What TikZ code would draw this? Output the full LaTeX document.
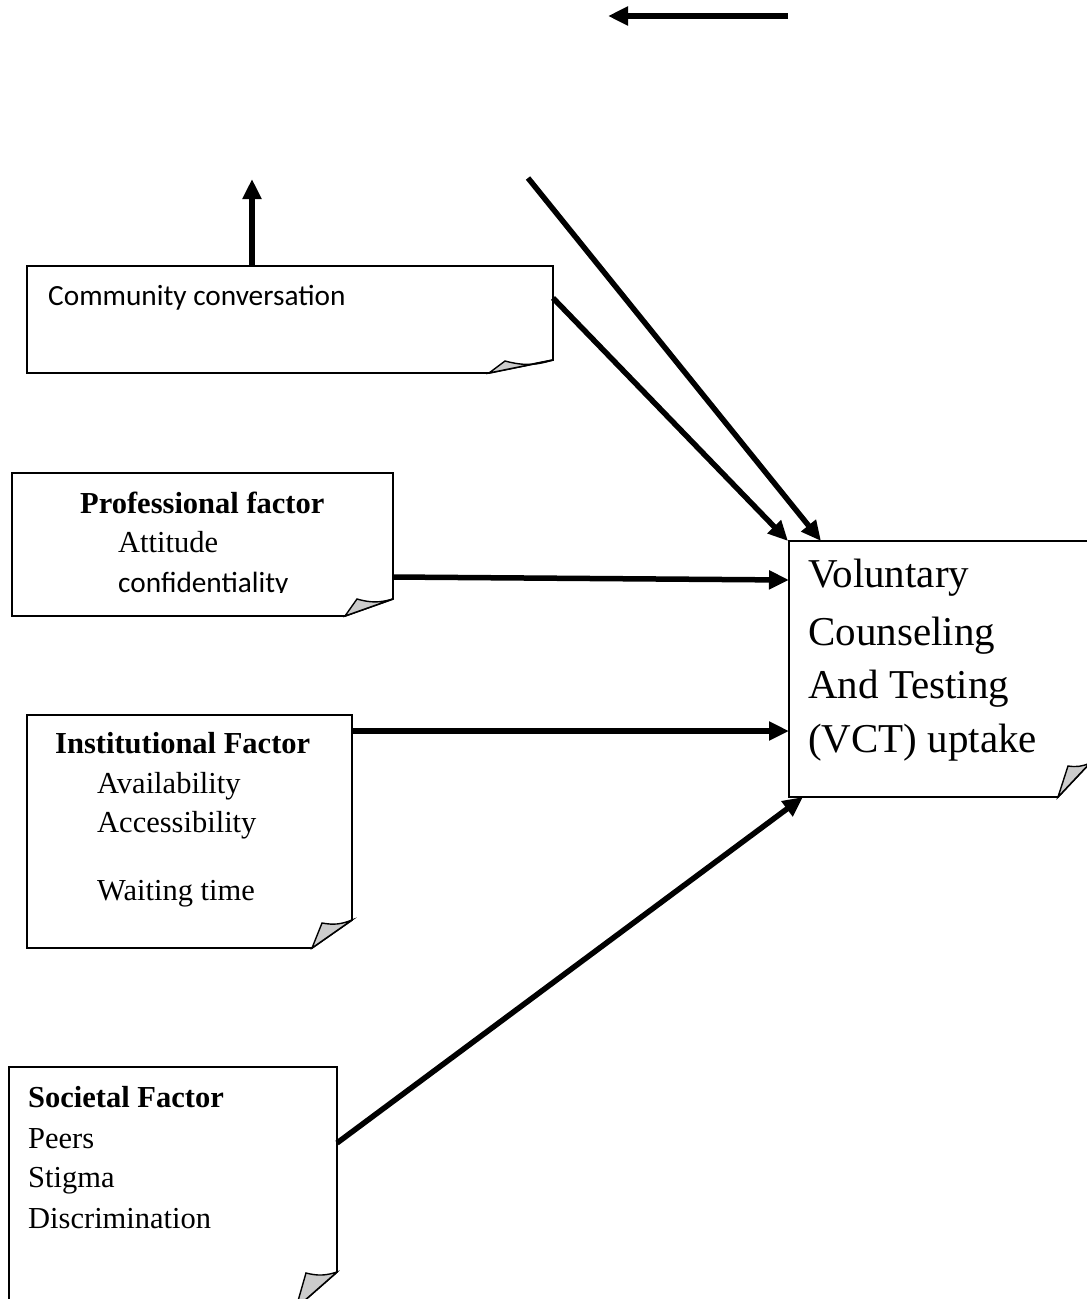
\documentclass[tikz,border=0pt]{standalone}
\usepackage{fontspec}
\setmainfont{Liberation Serif}
\newfontfamily\calfont{Carlito}
\usetikzlibrary{arrows.meta,calc}
\newcommand\foldbox[5]{%
  \draw[boxline] (#1.north west) -- (#1.north east) -- ([shift={(0,#3)}]#1.south east)
     -- ([shift={(#2,0)}]#1.south east) -- (#1.south west) -- cycle;
  \draw[boxline, line width=1.4pt, fill=gray!40] ([shift={(#2,0)}]#1.south east)
     -- ([shift={(#4,#5)}]#1.south east) to[bend right=16] ([shift={(0,#3)}]#1.south east) -- cycle;
}
\begin{document}
\begin{tikzpicture}[x=1pt,y=-1pt,
  boxline/.style={line width=1.8pt, line join=miter},
  conn/.style={line width=5.5pt, -{Triangle[length=20pt,width=18pt]}},
  holder/.style={inner sep=0pt, outer sep=0pt, draw=none},
  txt/.style={inner sep=0pt, anchor=base west, font=\fontsize{30.5}{36}\selectfont},
  btxt/.style={txt, font=\fontsize{30.5}{36}\selectfont\bfseries},
  ctxt/.style={inner sep=0pt, anchor=base west, font=\fontsize{29.3}{35}\selectfont\calfont},
  vtxt/.style={inner sep=0pt, anchor=base west, font=\fontsize{41}{48}\selectfont}]
\useasboundingbox (0,0) rectangle (1087,1299);

% box placeholders
\node[holder, minimum width=526pt, minimum height=107pt] (comm) at (290,319.5) {};
\node[holder, minimum width=381pt, minimum height=143pt] (prof) at (202.5,544.5) {};
\node[holder, minimum width=325pt, minimum height=233pt] (inst) at (189.5,831.5) {};
\node[holder, minimum width=328pt, minimum height=241pt] (soc) at (173,1187.5) {};
\node[holder, minimum width=301pt, minimum height=256pt] (vct) at (939.5,669) {};

\foldbox{comm}{-64}{-13}{-48}{-12}
\foldbox{prof}{-48}{-17}{-36}{-17}
\foldbox{inst}{-40}{-28}{-30}{-25}
\foldbox{soc}{-41}{-36}{-31}{-35}
\foldbox{vct}{-32}{-34}{-22}{-31}

% texts
\node[ctxt] (t1) at (48,305) {Community conversation};
\node[btxt] (t2) at (80,513) {Professional factor};
\node[txt] (t3) at (118,552) {Attitude};
\begin{scope}
\clip (0,0) rectangle (1087,592.5);
\node[ctxt] (t4) at (118,592) {confidentiality};
\end{scope}
\node[btxt] (t5) at (55,753) {Institutional Factor};
\node[txt] (t6) at (97,793) {Availability};
\node[txt] (t7) at (97,832) {Accessibility};
\node[txt] (t8) at (97,900) {Waiting time};
\node[btxt] (t9) at (28,1107) {Societal Factor};
\node[txt] (t10) at (28,1148) {Peers};
\node[txt] (t11) at (28,1187) {Stigma};
\node[txt] (t12) at (28,1228) {Discrimination};
\node[vtxt] (v1) at (808,587) {Voluntary};
\node[vtxt] (v2) at (808,645) {Counseling};
\node[vtxt] (v3) at (808,698) {And Testing};
\node[vtxt] (v4) at (808,752) {(VCT) uptake};

% free ends
\coordinate (topA) at (788,16);
\coordinate (topB) at (608,16);
\coordinate (upEnd) at (252,179);
\coordinate (diagStart) at (528,178);

% connectors
\draw[conn] (topA) -- (topB);
\draw[conn] ([xshift=225pt]comm.north west) -- (upEnd);
\draw[conn] (diagStart) -- ([xshift=32pt]vct.north west);
\draw[conn] ([yshift=21.5pt]comm.east) -- ([xshift=-1pt]vct.north west);
\draw[conn] ([yshift=-32.5pt]prof.east) -- ([yshift=89pt]vct.west);
\draw[conn] ([yshift=-16pt]inst.north east) -- ([yshift=-62pt]vct.west);
\draw[conn] ([yshift=-76pt]soc.north east) -- ([xshift=14pt]vct.south west);
\end{tikzpicture}
\end{document}
